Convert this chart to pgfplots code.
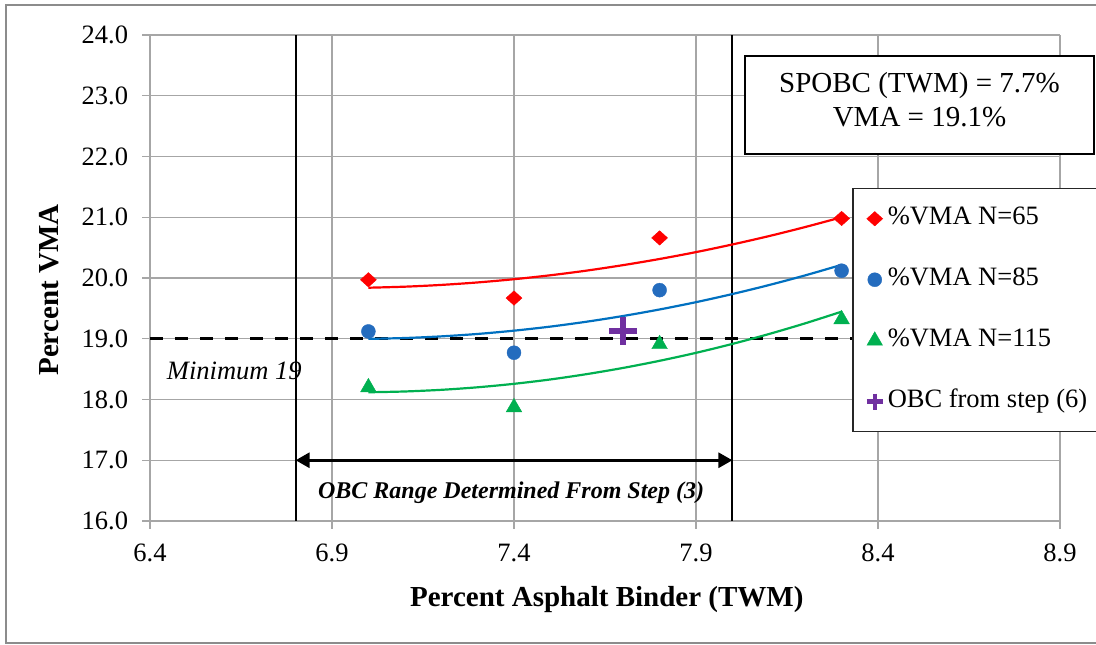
\documentclass[border=0pt]{standalone}
\usepackage{fontspec}
\setmainfont{Liberation Serif}
\usepackage{pgfplots}
\pgfplotsset{compat=1.18}
\usetikzlibrary{arrows.meta}
\definecolor{gridgray}{RGB}{166,166,166}
\definecolor{framegray}{RGB}{140,140,140}
\definecolor{vred}{RGB}{255,0,0}
\definecolor{vblue}{RGB}{36,108,190}
\definecolor{vblueline}{RGB}{0,112,192}
\definecolor{vgreen}{RGB}{0,176,80}
\definecolor{vpurple}{RGB}{112,48,160}

\begin{document}
\begin{tikzpicture}[x=1pt,y=1pt]
\useasboundingbox (0,0) rectangle (1096,645);
\draw[framegray, line width=2pt] (5.5,1.5) rectangle (1110,639.5);
\begin{axis}[
  at={(150pt,124pt)}, anchor=south west,
  scale only axis, width=910pt, height=486pt,
  xmin=6.4, xmax=8.9, ymin=16, ymax=24,
  xtick={6.4,6.9,7.4,7.9,8.4,8.9},
  ytick={16,17,18,19,20,21,22,23,24},
  axis lines*=left,
  axis line style={draw=gridgray, line width=1.3pt},
  grid=major,
  major grid style={draw=gridgray, line width=1.3pt},
  tick align=outside,
  major tick length=7.6pt,
  major tick style={draw=gridgray, line width=1.3pt},
  tick label style={font=\fontsize{26.5}{30}\selectfont, text=black},
  /pgf/number format/assume math mode=true,
  /pgf/number format/fixed,
  /pgf/number format/precision=1,
  /pgf/number format/fixed zerofill,
  xticklabel style={anchor=north, inner sep=0pt, yshift=-15.4pt},
  yticklabel style={anchor=east, inner sep=0pt, xshift=-14.1pt},
  xlabel={\textbf{Percent Asphalt Binder (TWM)}},
  ylabel={\textbf{Percent VMA}},
  label style={font=\fontsize{29}{34}\selectfont},
  xlabel style={at={(axis description cs:0.502,-0.1626)}, anchor=center},
  ylabel style={at={(axis description cs:-0.111,0.475)}, anchor=center},
  legend cell align=left,
  legend style={at={(0.77143,0.68519)}, anchor=north west,
    draw=black!85, line width=1.5pt, fill=white,
    font=\fontsize{26.5}{30}\selectfont,
    inner xsep=14pt, inner ysep=15pt, row sep=31pt, column sep=5pt,
    nodes={inner sep=0pt, text height=21pt, text depth=9pt}},
  legend image code/.code={\draw plot coordinates {(0pt,0pt)};},
]
% annotation text
\node[font=\fontsize{26.5}{30}\selectfont\itshape, anchor=west, inner sep=0pt] at (axis cs:6.446,18.47) {Minimum 19};
\node[font=\fontsize{24}{28}\selectfont\bfseries\itshape, inner sep=0pt] at (axis cs:7.392,16.47) {OBC Range Determined From Step (3)};
% vertical range lines
\addplot[black, line width=2pt, forget plot] coordinates {(6.8,16) (6.8,24)};
\addplot[black, line width=2pt, forget plot] coordinates {(8.0,16) (8.0,24)};
% minimum 19 dashed
\addplot[black, line width=3.5pt, dash pattern=on 13pt off 12pt, forget plot] coordinates {(6.4,19) (8.9,19)};
% range arrow
\draw[black, line width=3pt, {Triangle[length=14pt,width=15pt]}-{Triangle[length=14pt,width=15pt]}] (axis cs:6.8,17) -- (axis cs:8.0,17);
% trendlines
\addplot[vred, line width=2.2pt, smooth, forget plot] coordinates {
(7.0,19.840)(7.1,19.857)(7.2,19.886)(7.3,19.927)(7.4,19.980)(7.5,20.045)(7.6,20.122)
(7.7,20.212)(7.8,20.313)(7.9,20.426)(8.0,20.552)(8.1,20.689)(8.2,20.839)(8.3,21.000)};
\addplot[vblueline, line width=2.2pt, smooth, forget plot] coordinates {
(7.0,18.998)(7.1,19.012)(7.2,19.039)(7.3,19.079)(7.4,19.133)(7.5,19.200)(7.6,19.281)
(7.7,19.375)(7.8,19.482)(7.9,19.602)(8.0,19.736)(8.1,19.883)(8.2,20.043)(8.3,20.217)};
\addplot[vgreen, line width=2.2pt, smooth, forget plot] coordinates {
(7.0,18.119)(7.1,18.132)(7.2,18.159)(7.3,18.201)(7.4,18.258)(7.5,18.330)(7.6,18.418)
(7.7,18.520)(7.8,18.637)(7.9,18.768)(8.0,18.915)(8.1,19.077)(8.2,19.254)(8.3,19.446)};
% markers
\addplot[only marks, mark=diamond*, mark size=8pt,
  mark options={draw=vred, fill=vred, line width=0.4pt, xscale=1.33, yscale=0.9}]
  coordinates {(7.0,19.97)(7.4,19.67)(7.8,20.66)(8.3,20.98)};
\addlegendentry{\makebox[200pt][l]{\strut\%VMA N=65}}
\addplot[only marks, mark=*, mark size=7pt,
  mark options={draw=vblue, fill=vblue, line width=0.4pt}]
  coordinates {(7.0,19.12)(7.4,18.77)(7.8,19.80)(8.3,20.12)};
\addlegendentry{\makebox[200pt][l]{\strut\%VMA N=85}}
\addplot[only marks, mark=triangle*, mark size=9pt,
  mark options={draw=vgreen, fill=vgreen, line width=0.4pt}]
  coordinates {(7.0,18.20)(7.4,17.87)(7.8,18.91)(8.3,19.32)};
\addlegendentry{\makebox[200pt][l]{\strut\%VMA N=115}}
\addplot[only marks, mark=+, mark size=14pt,
  mark options={draw=vpurple, line width=5.8pt},
  legend image post style={mark size=8pt, mark options={draw=vpurple, line width=4.5pt}}]
  coordinates {(7.7,19.13)};
\addlegendentry{\makebox[200pt][l]{\strut OBC from step (6)}}
\end{axis}
% result text box
\draw[black, line width=2pt, fill=white] (745,491) rectangle (1094,589);
\node[font=\fontsize{29}{34}\selectfont, align=center, inner sep=0pt] at (919.5,545) {SPOBC (TWM) = 7.7\%\\VMA = 19.1\%};
\end{tikzpicture}
\end{document}
